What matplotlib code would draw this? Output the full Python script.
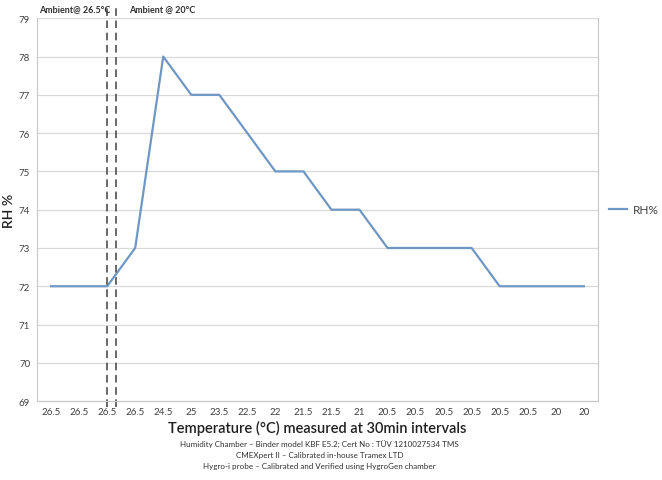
import matplotlib
matplotlib.use('Agg')
import matplotlib.pyplot as plt

plt.rcParams['font.family'] = ['Lato', 'DejaVu Sans']

# temperature labels along the x axis (one per 30min reading)
temps = ['26.5', '26.5', '26.5', '26.5', '24.5', '25', '23.5', '22.5', '22', '21.5',
         '21.5', '21', '20.5', '20.5', '20.5', '20.5', '20.5', '20.5', '20', '20']
# relative humidity readings
rh = [72, 72, 72, 73, 78, 77, 77, 76, 75, 75,
      74, 74, 73, 73, 73, 73, 72, 72, 72, 72]

notes = ['Humidity Chamber \u2013 Binder model KBF E5.2; Cert No : T\u00dcV 1210027534 TMS',
         'CMEXpert II \u2013 Calibrated in-house Tramex LTD',
         'Hygro-i probe \u2013 Calibrated and Verified using HygroGen chamber']

line_col = '#6f97c4'
grid_col = '#d9d9d9'
txt_col = '#404040'

fig = plt.figure(figsize=(6.62, 4.81), dpi=100)
ax = fig.add_axes([0.056, 0.164, 0.847, 0.796])

x = list(range(len(rh)))
ax.plot(x, rh, color=line_col, linewidth=1.6, label='RH%')

ax.set_xlim(-0.5, len(rh) - 0.5)
ax.set_ylim(69, 79)
ax.set_yticks(range(69, 80))
ax.set_xticks(x)
ax.set_xticklabels(temps)
ax.tick_params(axis='both', labelsize=7, colors=txt_col, length=0, pad=5)
ax.tick_params(axis='x', pad=4)
ax.yaxis.grid(True, color=grid_col, linewidth=0.9)
ax.set_axisbelow(True)
for s in ['left', 'bottom', 'right', 'top']:
    ax.spines[s].set_color('#c8c8c8')
ax.spines['top'].set_visible(False)

# dashed markers for the change of ambient
for xd in [2.0, 2.3]:
    ax.axvline(xd, ymin=-0.016, ymax=1.037, color='#404040', linestyle=(0, (5, 3)),
               linewidth=1.1, clip_on=False)
ax.text(-0.43, 1.026, 'Ambient@ 26.5\u00b0C', transform=ax.get_xaxis_transform(),
        fontsize=6.5, fontweight='bold', color='#303030', va='center')
ax.text(2.79, 1.026, 'Ambient @ 20\u00b0C', transform=ax.get_xaxis_transform(),
        fontsize=6.5, fontweight='bold', color='#303030', va='center')

ax.set_ylabel('RH %', fontsize=10, color='#202020', labelpad=3, fontweight='semibold')
ax.set_xlabel('Temperature (\u00b0C) measured at 30min intervals', fontsize=10.5,
              color='#202020', labelpad=3, fontweight='semibold')

for i, n in enumerate(notes):
    fig.text(0.483, 0.077 - i * 0.023, n, fontsize=5.8, color='#303030', ha='center', va='center')

ax.legend(loc='center left', bbox_to_anchor=(1.005, 0.5), frameon=False, fontsize=8.5,
          handlelength=1.5, handletextpad=0.5, borderaxespad=0.3, labelcolor=txt_col)

fig.savefig('out.png', dpi=100)
